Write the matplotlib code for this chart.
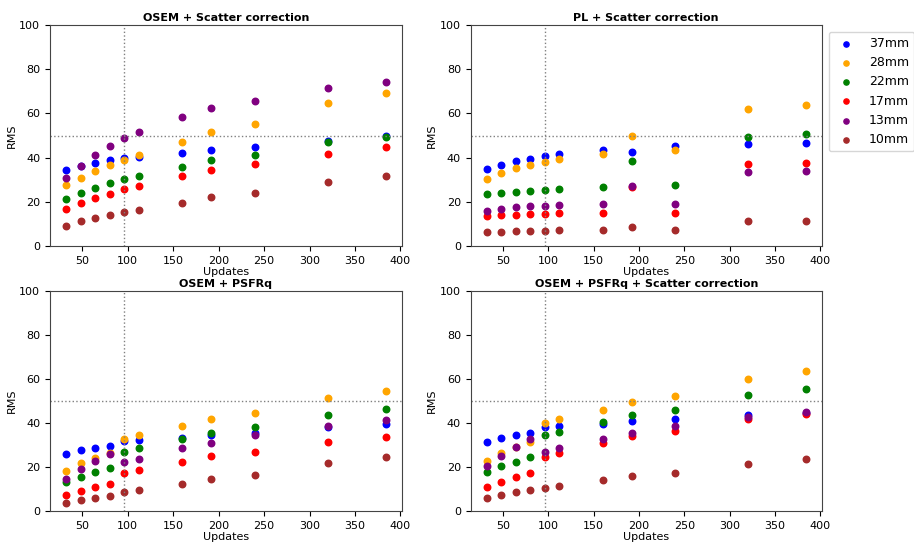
import matplotlib
matplotlib.use("Agg")
import matplotlib.pyplot as plt

updates = [32, 48, 64, 80, 96, 112, 160, 192, 240, 320, 384]
sizes = ['37mm', '28mm', '22mm', '17mm', '13mm', '10mm']
colors = ['blue', 'orange', 'green', 'red', 'purple', 'brown']

# OSEM + Scatter correction
osem_sc = {
    '37mm': [34.2, 36.0, 37.7, 38.8, 39.8, 40.3, 42.2, 43.3, 44.8, 47.7, 49.9],
    '28mm': [27.5, 30.9, 33.9, 36.5, 38.8, 41.0, 47.1, 51.7, 55.2, 64.9, 69.1],
    '22mm': [21.3, 24.1, 26.4, 28.5, 30.2, 31.7, 35.7, 38.8, 41.0, 46.9, 49.5],
    '17mm': [16.7, 19.3, 21.6, 23.7, 25.6, 27.1, 31.7, 34.4, 37.0, 41.8, 44.7],
    '13mm': [30.6, 36.3, 41.3, 45.4, 49.0, 51.7, 58.5, 62.6, 65.6, 71.6, 74.2],
    '10mm': [9.0, 11.3, 12.7, 14.2, 15.2, 16.4, 19.5, 22.3, 23.8, 29.1, 31.7],
}

# PL + Scatter correction
pl_sc = {
    '37mm': [34.7, 36.8, 38.3, 39.5, 40.6, 41.6, 43.4, 42.4, 45.2, 46.2, 46.7],
    '28mm': [30.2, 33.2, 35.3, 36.7, 38.1, 39.2, 41.6, 49.9, 43.6, 61.8, 63.9],
    '22mm': [23.4, 23.8, 24.3, 24.9, 25.3, 25.6, 26.7, 38.5, 27.5, 49.5, 50.7],
    '17mm': [13.7, 14.0, 14.2, 14.5, 14.5, 14.8, 15.1, 26.7, 15.1, 37.1, 37.7],
    '13mm': [15.8, 16.7, 17.5, 18.0, 18.2, 18.6, 19.0, 27.3, 19.0, 33.5, 33.8],
    '10mm': [6.3, 6.3, 6.6, 6.9, 6.9, 7.2, 7.2, 8.6, 7.4, 11.3, 11.3],
}

# OSEM + PSFRq
osem_psf = {
    '37mm': [26.1, 27.7, 28.9, 29.5, 32.0, 32.3, 33.3, 34.4, 35.5, 38.0, 39.4],
    '28mm': [18.2, 21.8, 24.2, 26.5, 32.9, 34.7, 38.8, 41.8, 44.5, 51.5, 54.8],
    '22mm': [13.2, 15.6, 17.6, 19.4, 27.0, 28.5, 32.9, 35.6, 38.0, 43.8, 46.4],
    '17mm': [7.1, 9.2, 10.8, 12.3, 17.1, 18.6, 22.1, 25.0, 27.0, 31.5, 33.6],
    '13mm': [14.8, 19.1, 22.7, 26.1, 22.1, 23.9, 28.5, 31.1, 34.5, 38.8, 41.5],
    '10mm': [3.8, 5.2, 6.1, 6.8, 8.6, 9.7, 12.3, 14.7, 16.5, 21.7, 24.7],
}

# OSEM + PSFRq + Scatter correction
osem_psf_sc = {
    '37mm': [31.5, 33.3, 34.5, 35.5, 38.2, 38.6, 39.8, 40.8, 41.8, 43.5, 44.8],
    '28mm': [22.9, 26.5, 29.0, 31.2, 40.0, 41.8, 46.1, 49.7, 52.4, 60.2, 63.6],
    '22mm': [17.9, 20.3, 22.3, 24.5, 34.4, 36.1, 40.5, 43.8, 46.1, 52.7, 55.6],
    '17mm': [10.9, 13.3, 15.3, 17.1, 24.4, 26.2, 30.8, 34.1, 36.2, 41.8, 44.1],
    '13mm': [20.3, 25.2, 29.2, 32.9, 26.8, 28.5, 32.9, 35.6, 38.5, 42.6, 45.0],
    '10mm': [5.8, 7.1, 8.5, 9.4, 10.3, 11.5, 14.1, 15.9, 17.4, 21.5, 23.8],
}

titles = ['OSEM + Scatter correction', 'PL + Scatter correction',
          'OSEM + PSFRq', 'OSEM + PSFRq + Scatter correction']
panels = [osem_sc, pl_sc, osem_psf, osem_psf_sc]

plt.rcParams['font.size'] = 8
plt.rcParams['axes.edgecolor'] = '#444444'

fig = plt.figure(figsize=(9.14, 5.42), dpi=100)
positions = [
    [0.0547, 0.546, 0.385, 0.408],
    [0.515, 0.546, 0.384, 0.408],
    [0.0547, 0.057, 0.385, 0.406],
    [0.515, 0.057, 0.384, 0.406],
]

axes = []
for pos, title, data in zip(positions, titles, panels):
    ax = fig.add_axes(pos)
    for size, color in zip(sizes, colors):
        ax.scatter(updates, data[size], color=color, s=22, label=size)
    ax.axvline(96, color='gray', linestyle=':', linewidth=1)
    ax.axhline(50, color='gray', linestyle=':', linewidth=1)
    ax.set_ylim(0, 100)
    ax.set_title(title, fontweight='bold', fontsize=8, pad=3)
    ax.set_xlabel('Updates', labelpad=1)
    ax.set_ylabel('RMS', labelpad=2)
    axes.append(ax)

axes[1].legend(loc='upper left', bbox_to_anchor=(1.01, 0.985), fontsize=9,
               markerscale=0.8, handletextpad=0.8, borderaxespad=0.3)

fig.savefig('out.png', dpi=100)
